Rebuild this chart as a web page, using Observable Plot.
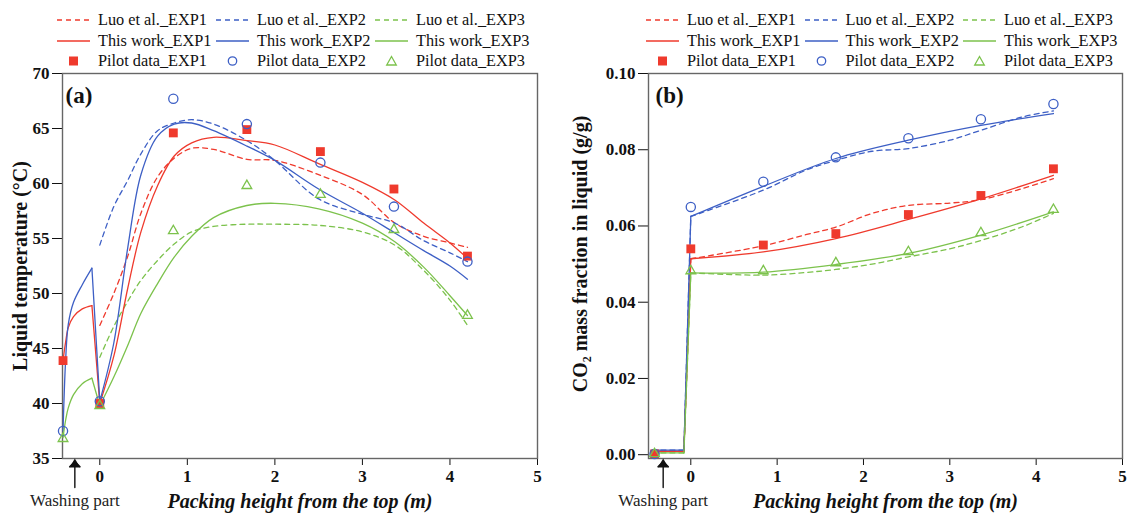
<!DOCTYPE html>
<html><head><meta charset="utf-8">
<script src="https://cdn.jsdelivr.net/npm/d3@7"></script>
<script src="https://cdn.jsdelivr.net/npm/@observablehq/plot@0.6"></script>
<style>
body{margin:0;background:#fff;}
#root{position:relative;width:1128px;height:518px;overflow:hidden;font-family:"Liberation Serif",serif;background:#fff;}
.panel{position:absolute;top:0;}
.panel svg{background:transparent;}
.legend{position:absolute;top:0;left:0;z-index:2;font-family:"Liberation Serif",serif;font-size:16.3px;color:#111;}
.item{position:absolute;display:flex;align-items:center;white-space:nowrap;height:20px;}
.item svg{margin-right:8px;}
</style></head><body><div id="root"></div>
<script>
// ---------- data ----------
const expNames = ["EXP1", "EXP2", "EXP3"];
const colors = ["#ef3a2d", "#3d5fc5", "#7cc24c"];
const seriesGroups = ["Luo et al._", "This work_", "Pilot data_"];

const pilotX = [-0.42, 0, 0.84, 1.68, 2.52, 3.36, 4.2];
// panel (a): liquid temperature
const pilotT1 = [43.9, 40.0, 64.6, 64.9, 62.9, 59.5, 53.4];
const pilotT2 = [37.5, 40.2, 67.7, 65.4, 61.9, 57.9, 52.9];
const pilotT3 = [36.8, 39.8, 55.7, 59.8, 59.0, 55.8, 48.0];

const washXa = [-0.42, -0.39, -0.36, -0.3, -0.2, -0.09];
const thisWashT1 = [43.9, 45.6, 46.9, 47.9, 48.6, 48.9];
const thisWashT2 = [37.5, 44.0, 47.2, 49.2, 50.8, 52.3];
const thisWashT3 = [36.9, 38.5, 39.6, 40.8, 41.8, 42.3];

const packXa = [0, 0.16, 0.32, 0.47, 0.66, 0.85, 1.05, 1.3, 1.68, 2.0, 2.5, 3.0, 3.37, 3.7, 4.0, 4.2];
const thisT1 = [40.0, 44.3, 50.5, 55.6, 59.8, 62.5, 63.7, 64.2, 63.9, 63.5, 61.8, 60.1, 58.5, 56.4, 54.6, 53.2];
const thisT2 = [40.2, 45.5, 54.2, 60.8, 64.3, 65.4, 65.5, 64.8, 63.4, 62.1, 59.5, 57.3, 55.5, 53.9, 52.5, 51.3];
const thisT3 = [39.8, 42.4, 45.3, 48.2, 50.9, 53.3, 55.2, 56.9, 58.0, 58.2, 57.7, 56.4, 54.7, 52.4, 49.8, 48.0];
const luoT1 = [47.1, 50.0, 53.4, 57.3, 60.6, 62.3, 63.2, 63.1, 62.2, 62.1, 60.8, 59.0, 56.4, 55.2, 54.6, 54.2];
const luoT2 = [54.4, 57.9, 60.3, 62.7, 64.8, 65.5, 65.8, 65.4, 63.9, 62.1, 58.6, 57.2, 56.4, 54.8, 53.7, 52.9];
const luoT3 = [44.2, 47.0, 49.3, 51.2, 53.0, 54.5, 55.6, 56.1, 56.3, 56.3, 56.2, 55.6, 54.4, 52.1, 49.4, 47.1];

// panel (b): CO2 mass fraction
const pilotC1 = [0.0002, 0.054, 0.055, 0.058, 0.063, 0.068, 0.075];
const pilotC2 = [0.0002, 0.065, 0.0716, 0.078, 0.083, 0.088, 0.092];
const pilotC3 = [0.0002, 0.0482, 0.0482, 0.0503, 0.0532, 0.0582, 0.0643];

const washXb = [-0.45, -0.08];
const washC1 = [0.0009, 0.0009];
const washC2 = [0.0012, 0.0012];
const washC3 = [0.0005, 0.0005];

const packXb = [0, 0.84, 1.68, 2.52, 3.36, 4.2];
const thisC1 = [0.0514, 0.0532, 0.0567, 0.0617, 0.0671, 0.0733];
const thisC2 = [0.0625, 0.0704, 0.0777, 0.0825, 0.0864, 0.0895];
const thisC3 = [0.0477, 0.0479, 0.0499, 0.0528, 0.0576, 0.0637];

const luoXb = [0, 0.84, 1.33, 1.68, 2.1, 2.52, 3.0, 3.36, 3.84, 4.2];
const luoC1 = [0.0514, 0.0548, 0.0577, 0.0597, 0.0633, 0.0654, 0.0660, 0.0669, 0.0698, 0.0724];
const luoC2 = [0.0625, 0.0694, 0.0746, 0.0772, 0.0796, 0.0803, 0.0825, 0.0851, 0.0886, 0.0902];
const luoC3 = [0.0477, 0.0471, 0.0478, 0.0486, 0.0500, 0.0519, 0.0540, 0.0562, 0.0598, 0.0633];

const xTicks = [0, 1, 2, 3, 4, 5];
const yTicksA = [35, 40, 45, 50, 55, 60, 65, 70];
const yTicksB = [0, 0.02, 0.04, 0.06, 0.08, 0.10];
const xLabel = "Packing height from the top (m)";
const yLabelA = "Liquid temperature (°C)";
const yLabelB = "CO₂ mass fraction in liquid (g/g)";
const washLabel = "Washing part";
const washArrowXa = -0.285;
const washArrowXb = -0.32;

// ---------- helpers ----------
const rows = (xs, ys, key, seg) => xs.map((x, i) => ({x, y: ys[i], key, z: key + seg}));
function segRows(washX, washY, packX, packY, key) {
  const out = [];
  if (washX) {
    out.push(...rows(washX, washY, key, "w"));
    out.push(...rows([washX[washX.length - 1], packX[0]], [washY[washY.length - 1], packY[0]], key, "j"));
  }
  out.push(...rows(packX, packY, key, "p"));
  return out;
}
const pilotRows = (ys, key) => pilotX.map((x, i) => ({x, y: ys[i], key}));

function panel({solid, dashed, pilots, xDomain, yDomain, yTicks, yFormat, ml, mr, w, yLabel, yLabelDx, yLabelDy, tag, tagDx, arrowX}) {
  const marks = [Plot.frame({stroke: "#666", strokeWidth: 1.4})];
  dashed.forEach((d, i) => marks.push(Plot.line(d, {x: "x", y: "y", z: "z", stroke: colors[i], strokeWidth: 1.3, strokeDasharray: "5,4", curve: "catmull-rom"})));
  solid.forEach((d, i) => marks.push(Plot.line(d, {x: "x", y: "y", z: "z", stroke: colors[i], strokeWidth: 1.3, curve: "catmull-rom"})));
  marks.push(Plot.dot(pilots[0], {x: "x", y: "y", symbol: "square", r: 5, fill: colors[0], stroke: "none"}));
  marks.push(Plot.dot(pilots[1], {x: "x", y: "y", symbol: "circle", r: 4.6, fill: "white", fillOpacity: 0, stroke: colors[1], strokeWidth: 1.3}));
  marks.push(Plot.dot(pilots[2], {x: "x", y: "y", symbol: "triangle", r: 3.6, fill: "none", stroke: colors[2], strokeWidth: 1.3}));
  marks.push(Plot.text([tag], {frameAnchor: "top-left", dx: tagDx, dy: 13, text: d => d, fontSize: 23, fontWeight: "bold", textAnchor: "start", fill: "#111"}));
  marks.push(Plot.text([yLabel], {frameAnchor: "left", dx: yLabelDx, dy: yLabelDy, rotate: -90, text: d => d, fontSize: 20, fontWeight: "bold", textAnchor: "middle", fill: "#111"}));
  marks.push(Plot.text([xLabel], {frameAnchor: "bottom", dy: 49, text: d => d, fontSize: 20, fontWeight: "bold", fontStyle: "italic", textAnchor: "middle", fill: "#111"}));
  marks.push(Plot.vector([arrowX], {x: d => d, frameAnchor: "bottom", dy: 29, length: 26, rotate: 0, anchor: "start", stroke: "#111", strokeWidth: 1.4}));
  marks.push(Plot.dot([arrowX], {x: d => d, frameAnchor: "bottom", dy: 6, symbol: "triangle", r: 3.9, fill: "#111", stroke: "none"}));
  marks.push(Plot.text([washLabel], {x: () => arrowX, frameAnchor: "bottom", dy: 47, text: d => d, fontSize: 17, fontWeight: "normal", textAnchor: "middle", fill: "#222"}));
  return Plot.plot({
    width: w, height: 518,
    marginTop: 73, marginBottom: 60, marginLeft: ml, marginRight: mr,
    x: {domain: xDomain, ticks: xTicks, tickFormat: d3.format("d"), tickSize: 7, tickPadding: 4, label: null},
    y: {domain: yDomain, ticks: yTicks, tickFormat: yFormat, tickSize: 10, tickPadding: 3, label: null},
    style: {fontFamily: "Liberation Serif", fontSize: "17px", fontWeight: "bold", color: "#111", background: "transparent", overflow: "visible"},
    marks
  });
}

const root = document.getElementById("root");

const pa = panel({
  solid: [segRows(washXa, thisWashT1, packXa, thisT1, "s1"), segRows(washXa, thisWashT2, packXa, thisT2, "s2"), segRows(washXa, thisWashT3, packXa, thisT3, "s3")],
  dashed: [segRows(null, null, packXa, luoT1, "d1"), segRows(null, null, packXa, luoT2, "d2"), segRows(null, null, packXa, luoT3, "d3")],
  pilots: [pilotRows(pilotT1, 1), pilotRows(pilotT2, 2), pilotRows(pilotT3, 3)],
  xDomain: [-0.426, 5], yDomain: [35, 70], yTicks: yTicksA, yFormat: d3.format("d"),
  ml: 62, mr: 23, w: 560, yLabel: yLabelA, yLabelDx: -42, yLabelDy: 0, tag: "(a)", tagDx: 3, arrowX: washArrowXa
});
const pb = panel({
  solid: [segRows(washXb, washC1, packXb, thisC1, "s1"), segRows(washXb, washC2, packXb, thisC2, "s2"), segRows(washXb, washC3, packXb, thisC3, "s3")],
  dashed: [segRows(washXb, washC1, luoXb, luoC1, "d1"), segRows(washXb, washC2, luoXb, luoC2, "d2"), segRows(washXb, washC3, luoXb, luoC3, "d3")],
  pilots: [pilotRows(pilotC1, 1), pilotRows(pilotC2, 2), pilotRows(pilotC3, 3)],
  xDomain: [-0.49, 5], yDomain: [-0.001, 0.1], yTicks: yTicksB, yFormat: d3.format(".2f"),
  ml: 88, mr: 6, w: 568, yLabel: yLabelB, yLabelDx: -68, yLabelDy: -12, tag: "(b)", tagDx: 7, arrowX: washArrowXb
});
const da = document.createElement("div"); da.className = "panel"; da.style.left = "0px"; da.appendChild(pa); root.appendChild(da);
const db = document.createElement("div"); db.className = "panel"; db.style.left = "560px"; db.appendChild(pb); root.appendChild(db);

// ---------- legends ----------
function swatch(row, i) {
  const c = colors[i];
  if (row === 0) return `<svg width="33" height="12"><line x1="0" y1="6" x2="33" y2="6" stroke="${c}" stroke-width="1.3" stroke-dasharray="5,4"/></svg>`;
  if (row === 1) return `<svg width="33" height="12"><line x1="0" y1="6" x2="33" y2="6" stroke="${c}" stroke-width="1.3"/></svg>`;
  if (i === 0) return `<svg width="33" height="12"><rect x="12" y="1.5" width="9" height="9" fill="${c}"/></svg>`;
  if (i === 1) return `<svg width="33" height="12"><circle cx="16.5" cy="6" r="4.2" fill="none" stroke="${c}" stroke-width="1.3"/></svg>`;
  return `<svg width="33" height="12"><path d="M16.5,1.5 L21.3,10 L11.7,10 Z" fill="none" stroke="${c}" stroke-width="1.3"/></svg>`;
}
const legend = document.createElement("div"); legend.className = "legend"; root.appendChild(legend);
const rowY = [20, 40.5, 61];
[[57, 159], [646, 158.5]].forEach(([L, step]) => {
  seriesGroups.forEach((g, r) => {
    expNames.forEach((e, i) => {
      const it = document.createElement("div");
      it.className = "item";
      it.style.left = (L + i * step) + "px";
      it.style.top = (rowY[r] - 10) + "px";
      it.innerHTML = swatch(r, i) + `<span>${g}${e}</span>`;
      legend.appendChild(it);
    });
  });
});
</script></body></html>
